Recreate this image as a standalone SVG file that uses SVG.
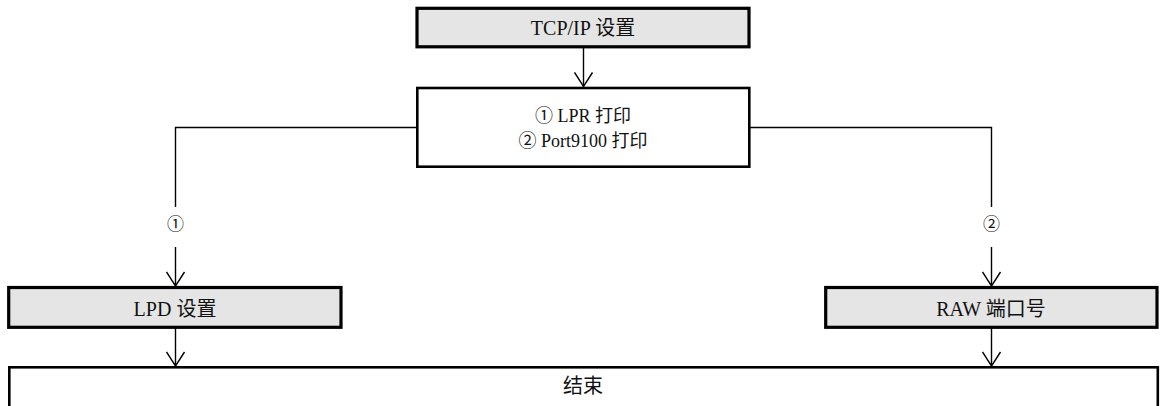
<svg xmlns="http://www.w3.org/2000/svg" width="1161" height="406" viewBox="0 0 1161 406">
  <style>
    .box { fill: #e5e5e5; stroke: #000; stroke-width: 3.2; }
    .plain { fill: #fff; stroke: #000; stroke-width: 2.6; }
    .t { font-family: "Liberation Serif", "Noto Sans CJK SC", serif; fill: #111; text-anchor: middle; }
    .conn { fill: none; stroke: #000; stroke-width: 1.4; }
  </style>
  <defs>
    <marker id="v" viewBox="-15 -10 16 20" markerWidth="16" markerHeight="20" refX="0" refY="0" orient="auto" markerUnits="userSpaceOnUse">
      <path d="M-14,-9 L0,0 L-14,9" fill="none" stroke="#000" stroke-width="1.4"/>
    </marker>
  </defs>
  <rect width="1161" height="406" fill="#fff"/>

  <g id="connectors">
    <line class="conn" x1="583.5" y1="47" x2="583.5" y2="86.5" marker-end="url(#v)"/>
    <polyline class="conn" points="416,127.5 175.5,127.5 175.5,207"/>
    <line class="conn" x1="175.5" y1="247" x2="175.5" y2="286" marker-end="url(#v)"/>
    <polyline class="conn" points="750,127.5 991.5,127.5 991.5,207"/>
    <line class="conn" x1="991.5" y1="247" x2="991.5" y2="286" marker-end="url(#v)"/>
    <line class="conn" x1="175.5" y1="328" x2="175.5" y2="366" marker-end="url(#v)"/>
    <line class="conn" x1="991.5" y1="328" x2="991.5" y2="366" marker-end="url(#v)"/>
    <text class="t" x="175.5" y="230" font-size="17">①</text>
    <text class="t" x="991.5" y="230" font-size="17">②</text>
  </g>

  <g id="tcpip">
    <rect class="box" x="417" y="8.3" width="332" height="38.5"/>
    <text class="t" x="583" y="35" font-size="20">TCP/IP 设置</text>
  </g>

  <g id="print-select">
    <rect class="plain" x="417.3" y="88" width="332" height="78.7"/>
    <text class="t" x="583" y="122" font-size="18">① LPR 打印</text>
    <text class="t" x="583" y="147" font-size="18">② Port9100 打印</text>
  </g>

  <g id="lpd">
    <rect class="box" x="8.7" y="287.5" width="332.3" height="39.8"/>
    <text class="t" x="175" y="316" font-size="20">LPD 设置</text>
  </g>

  <g id="raw">
    <rect class="box" x="825.7" y="287.5" width="331.3" height="39.8"/>
    <text class="t" x="991" y="316" font-size="20">RAW 端口号</text>
  </g>

  <g id="end">
    <rect class="plain" x="9.3" y="367.3" width="1148.5" height="60"/>
    <text class="t" x="583" y="393" font-size="20">结束</text>
  </g>
</svg>
